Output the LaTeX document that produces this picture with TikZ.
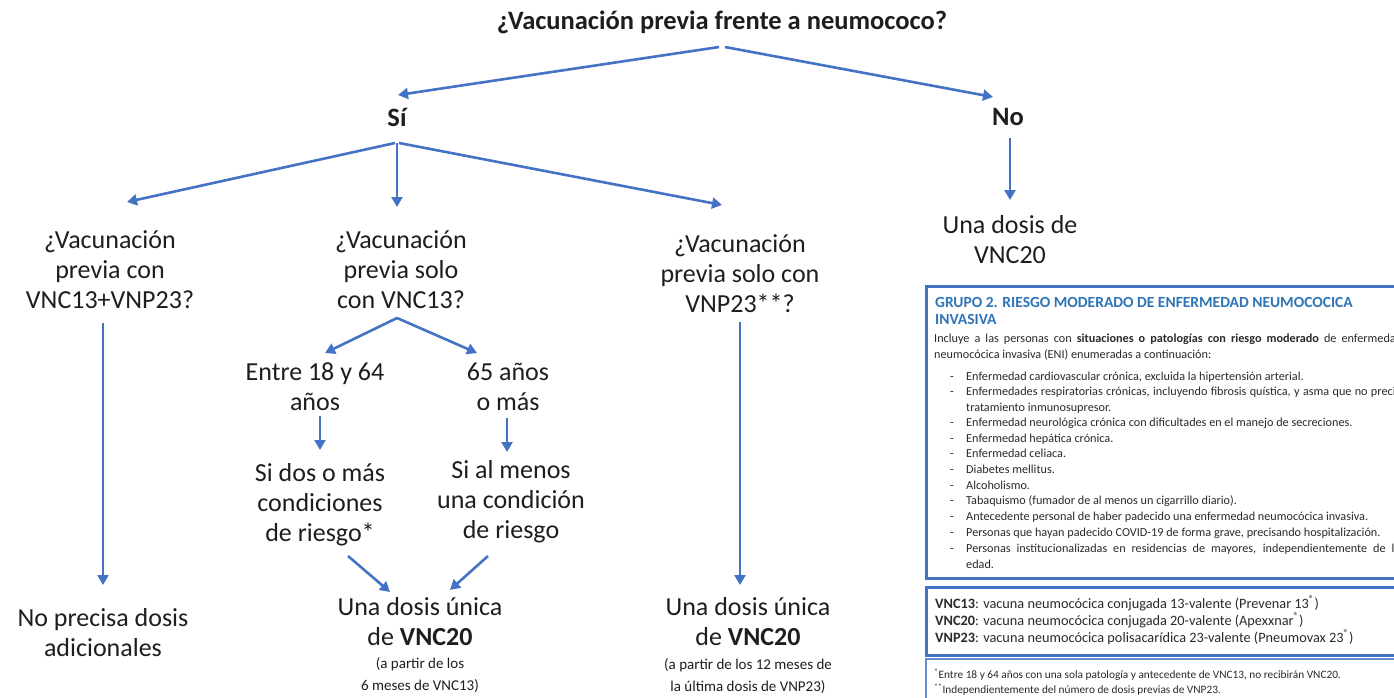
\documentclass[tikz,border=0pt]{standalone}
\usepackage{fontspec}
\setmainfont{Carlito}
\usetikzlibrary{arrows.meta,calc}
\definecolor{arrblue}{HTML}{4472C4}
\definecolor{hdrblue}{HTML}{2E75B6}
\definecolor{txt}{HTML}{1E1E1E}
\definecolor{boxtxt}{HTML}{2A2A2A}
\begin{document}
\begin{tikzpicture}[x=1pt,y=-1pt,
  arr/.style={draw=arrblue, line width=2.6pt, -{Triangle[length=10pt,width=11pt]}},
  big/.style={font=\fontsize{26}{30}\selectfont, align=center, text=txt, inner sep=0pt},
  bigb/.style={font=\fontsize{26.5}{30}\selectfont\bfseries, align=center, text=txt, inner sep=0pt},
  paren/.style={font=\fontsize{15}{22}\selectfont, align=center, text=txt, inner sep=0pt},
  hdr/.style={font=\fontsize{15.5}{16}\selectfont\bfseries, text=hdrblue, anchor=base west, inner sep=0pt},
  small/.style={font=\fontsize{12.2}{15.5}\selectfont, text=boxtxt, anchor=base west, inner sep=0pt},
  mid/.style={font=\fontsize{14.3}{17}\selectfont, text=boxtxt, anchor=base west, inner sep=0pt},
  foot/.style={font=\fontsize{11.3}{15}\selectfont, text=boxtxt, anchor=base west, inner sep=0pt},
  boxline/.style={draw=arrblue, line width=3pt},
  boxthin/.style={draw=arrblue!80, line width=1.8pt}
]
\fill[white] (0,0) rectangle (1394,698);
\clip (0,0) rectangle (1394,698);

% main tree nodes
\node[bigb] (title) at (722,22) {¿Vacunación previa frente a neumococo?};
\node[bigb] (si) at (397,117) {Sí};
\node[bigb] (no) at (1008,117) {No};
\node[big] (A) at (110,270) {¿Vacunación\\previa con\\VNC13+VNP23?};
\node[big] (B) at (401,270) {¿Vacunación\\previa solo\\con VNC13?};
\node[big] (C) at (740,274) {¿Vacunación\\previa solo con\\VNP23**?};
\node[big] (D) at (1010,240) {Una dosis de\\VNC20};
\node[big] (E) at (315,387) {Entre 18 y 64\\años};
\node[big] (F) at (508,387) {65 años\\o más};
\node[big] (G) at (320,505) {Si dos o más\\condiciones\\de riesgo*};
\node[big] (H) at (511,502) {Si al menos\\una condición\\de riesgo};
\node[big] (I) at (103,633) {No precisa dosis\\adicionales};
\node[big] (J) at (420,622) {Una dosis única\\de \textbf{VNC20}};
\node[paren] (J2) at (420,675) {(a partir de los\\6 meses de VNC13)};
\node[big] (K) at (748,622) {Una dosis única\\de \textbf{VNC20}};
\node[paren] (K2) at (748,676) {(a partir de los 12 meses de\\la última dosis de VNP23)};

% connectors
\draw[arr] ($(title)+(-3,25)$) -- ($(si)+(1,-22)$);
\draw[arr] ($(title)+(3,25)$) -- ($(no)+(-15,-20)$);
\draw[arr] ($(si)+(-2,26)$) -- ($(A)+(17,-68)$);
\draw[arr] ($(si)+(0,26)$) -- ($(B)+(-4,-63)$);
\draw[arr] ($(si)+(2,26)$) -- ($(C)+(-18,-69)$);
\draw[arr] ($(no)+(2,21)$) -- ($(D)+(0,-40)$);
\draw[arr] ($(A)+(-7,53)$) -- ($(I)+(0,-48)$);
\draw[arr] ($(B)+(-4,48)$) -- ($(E)+(10,-34)$);
\draw[arr] ($(B)+(-4,48)$) -- ($(F)+(-31,-34)$);
\draw[arr] ($(E)+(5,29)$) -- ($(G)+(0,-55)$);
\draw[arr] ($(F)+(-1,31)$) -- ($(H)+(-4,-50)$);
\draw[arr] ($(G)+(28,51)$) -- ($(J)+(-30,-30)$);
\draw[arr] ($(H)+(-23,54)$) -- ($(J)+(30,-32)$);
\draw[arr] ($(C)+(0,48)$) -- ($(K)+(-8,-37)$);

% right-hand boxes
\draw[boxline] (926,286) rectangle (1410,578);
\draw[boxline] (926,587) rectangle (1410,655);
\draw[boxthin] (926,659) rectangle (1410,712);

\node[hdr] (h1) at (935,307) {GRUPO 2. RIESGO MODERADO DE ENFERMEDAD NEUMOCOCICA};
\node[hdr] (h2) at (935,324) {INVASIVA};
\node[small] (p1) at (934,342) {\makebox[468pt][s]{Incluye a las personas con \textbf{situaciones o patologías con riesgo moderado} de enfermedad}};
\node[small] (p2) at (934,358) {neumocócica invasiva (ENI) enumeradas a continuación:};

\foreach \y/\t in {380/{Enfermedad cardiovascular crónica, excluida la hipertensión arterial.},
                   426/{Enfermedad neurológica crónica con dificultades en el manejo de secreciones.},
                   442/{Enfermedad hepática crónica.},
                   457/{Enfermedad celiaca.},
                   473/{Diabetes mellitus.},
                   489/{Alcoholismo.},
                   504/{Tabaquismo (fumador de al menos un cigarrillo diario).},
                   520/{Antecedente personal de haber padecido una enfermedad neumocócica invasiva.},
                   536/{Personas que hayan padecido COVID-19 de forma grave, precisando hospitalización.}}
  {\node[small] (dash\y) at (950,\y) {-}; \node[small] (item\y) at (966,\y) {\t};}
\node[small] (d2) at (950,395) {-};
\node[small] (i2) at (966,395) {\makebox[440pt][s]{Enfermedades respiratorias crónicas, incluyendo fibrosis quística, y asma que no precisa}};
\node[small] (i2b) at (966,411) {tratamiento inmunosupresor.};
\node[small] (d12) at (950,552) {-};
\node[small] (i12) at (966,552) {\makebox[434pt][s]{Personas institucionalizadas en residencias de mayores, independientemente de la}};
\node[small] (i12b) at (966,568) {edad.};

\node[mid] (v1) at (935,608) {\textbf{VNC13}: vacuna neumocócica conjugada 13-valente (Prevenar 13\textsuperscript{®})};
\node[mid] (v2) at (935,625) {\textbf{VNC20}: vacuna neumocócica conjugada 20-valente (Apexxnar\textsuperscript{®})};
\node[mid] (v3) at (935,642) {\textbf{VNP23}: vacuna neumocócica polisacarídica 23-valente (Pneumovax 23\textsuperscript{®})};

\node[foot] (f1) at (934,678) {\textsuperscript{*}Entre 18 y 64 años con una sola patología y antecedente de VNC13, no recibirán VNC20.};
\node[foot] (f2) at (934,693) {\textsuperscript{**}Independientemente del número de dosis previas de VNP23.};
\end{tikzpicture}
\end{document}
